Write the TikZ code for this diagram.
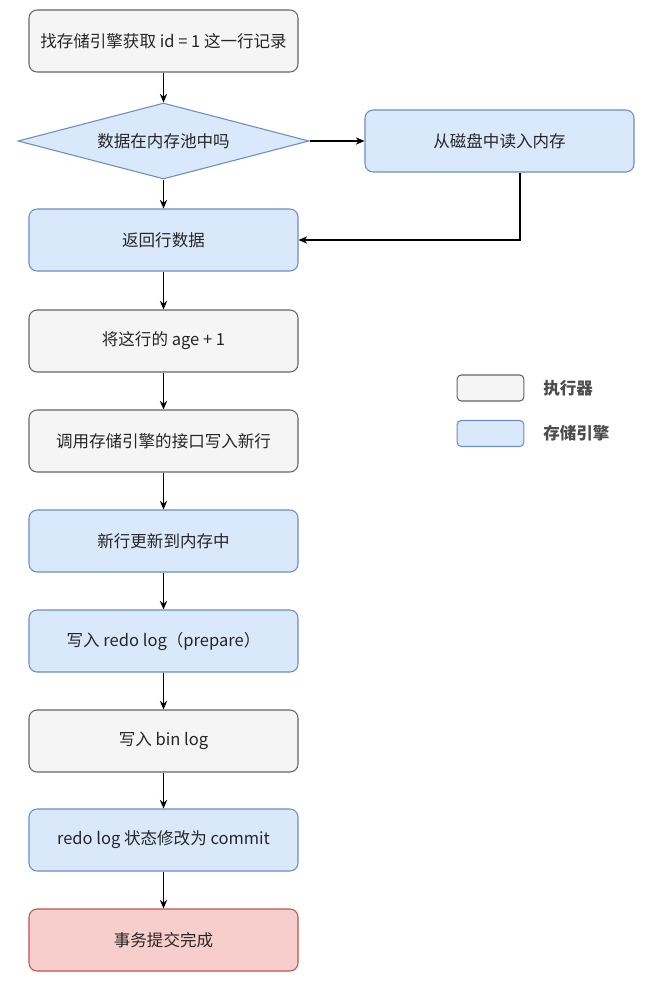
\documentclass[tikz,border=0pt]{standalone}
\usepackage{fontspec}
\setmainfont{Noto Sans CJK SC}
\usetikzlibrary{shapes.geometric,arrows.meta}

\begin{document}
\begin{tikzpicture}[
    x=0.75pt,
    y=-0.75pt,
    step box/.style={rounded corners=6pt, line width=0.8pt,
      minimum width=201.75pt, minimum height=46.5pt, inner sep=0pt,
      font=\fontsize{12.4}{14}\selectfont, text=black!85},
    exec box/.style={step box, fill=execFill, draw=execLine},
    store box/.style={step box, fill=storeFill, draw=storeLine},
    done box/.style={step box, fill=doneFill, draw=doneLine},
    decision/.style={diamond, fill=storeFill, draw=storeLine, line width=0.8pt,
      minimum width=218.25pt, minimum height=57pt, inner sep=0pt, shape aspect=3.8,
      font=\fontsize{12.4}{14}\selectfont, text=black!85},
    legend key/.style={rounded corners=3pt, line width=0.8pt,
      minimum width=50pt, minimum height=19.5pt, inner sep=0pt},
    legend label/.style={anchor=west, font=\fontsize{12.4}{14}\selectfont\bfseries,
      text=black!70, inner sep=0pt},
    flow/.style={draw=black, line width=0.9pt, -{Stealth[length=6.5pt,width=5.5pt]}}
]

\definecolor{execFill}{RGB}{245,245,245}
\definecolor{execLine}{RGB}{102,102,102}
\definecolor{storeFill}{RGB}{218,232,252}
\definecolor{storeLine}{RGB}{108,142,191}
\definecolor{doneFill}{RGB}{248,206,204}
\definecolor{doneLine}{RGB}{184,84,80}

\useasboundingbox (0,0) rectangle (656,983);

% Main column of steps.
\node[exec box] (fetch) at (163.5,41) {找存储引擎获取 id = 1 这一行记录};
\node[decision] (inpool) at (163.5,141) {数据在内存池中吗};
\node[store box] (disk) at (499.5,141) {从磁盘中读入内存};
\node[store box] (rowback) at (163.5,240) {返回行数据};
\node[exec box] (ageinc) at (163.5,341) {将这行的 age + 1};
\node[exec box] (callapi) at (163.5,441) {调用存储引擎的接口写入新行};
\node[store box] (memupd) at (163.5,541) {新行更新到内存中};
\node[store box] (redoprep) at (163.5,641) {写入 redo log（prepare）};
\node[exec box] (binlog) at (163.5,741) {写入 bin log};
\node[store box] (redocommit) at (163.5,840) {redo log 状态修改为 commit};
\node[done box] (commitdone) at (163.5,940) {事务提交完成};

% Connectors.
\draw[flow] (fetch) -- (inpool);
\draw[flow] (inpool) -- (rowback);
\draw[flow] (inpool.east) -- (disk.west);
\coordinate (diskdrop) at (520,240);
\draw[flow] (disk.south -| diskdrop) -- (diskdrop) -- (rowback.east);
\draw[flow] (rowback) -- (ageinc);
\draw[flow] (ageinc) -- (callapi);
\draw[flow] (callapi) -- (memupd);
\draw[flow] (memupd) -- (redoprep);
\draw[flow] (redoprep) -- (binlog);
\draw[flow] (binlog) -- (redocommit);
\draw[flow] (redocommit) -- (commitdone);

% Legend.
\node[legend key, fill=execFill, draw=execLine] (keyexec) at (490.5,388) {};
\node[legend key, fill=storeFill, draw=storeLine] (keystore) at (490.5,433.5) {};
\node[legend label] (labexec) at (543,388) {执行器};
\node[legend label] (labstore) at (543,433.5) {存储引擎};

\end{tikzpicture}
\end{document}
